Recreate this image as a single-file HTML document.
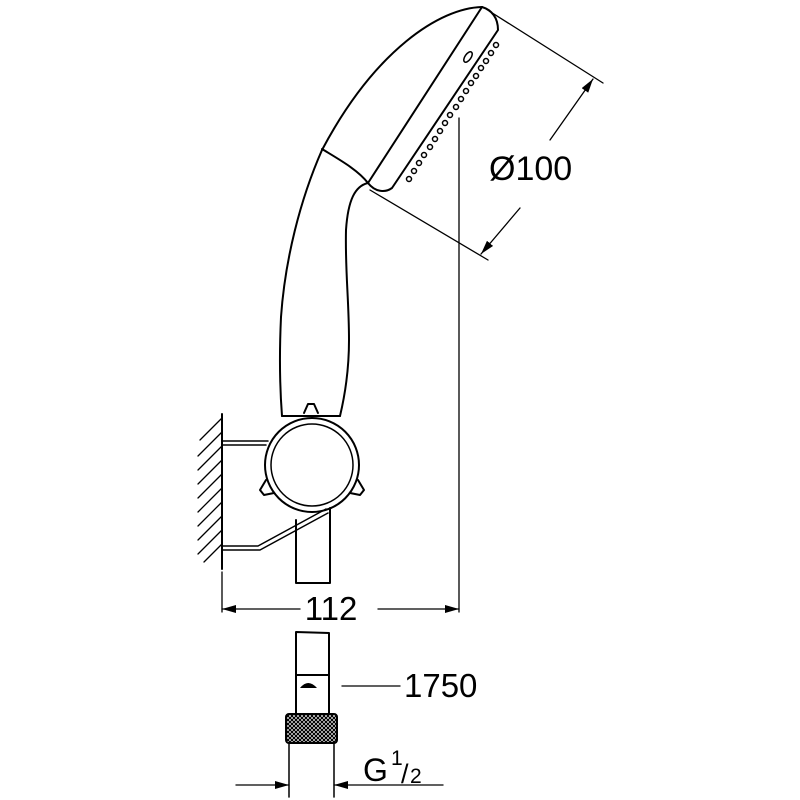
<!DOCTYPE html>
<html><head><style>html,body{margin:0;padding:0;background:#fff}svg{display:block}</style></head><body>
<svg width="800" height="800" viewBox="0 0 800 800" xmlns="http://www.w3.org/2000/svg">
<defs>
<marker id="ar" markerWidth="14" markerHeight="8" refX="14" refY="4" orient="auto" markerUnits="userSpaceOnUse"><path d="M0,0 L14,4 L0,8 z" fill="#000"/></marker>
<pattern id="kn" width="4" height="4" patternUnits="userSpaceOnUse"><rect width="4" height="4" fill="#fff"/><path d="M0,0 L4,4 M4,0 L0,4" stroke="#000" stroke-width="1.2"/></pattern>
</defs>
<g fill="none" stroke="#000" stroke-width="2" stroke-linejoin="round" stroke-linecap="round">
<path d="M482,7 C440,8 375,50 322,150 C300,200 285,260 281,317 C279,360 280,390 282,416"/>
<path d="M322,149 C340,160 358,170 368,183"/>
<path d="M368,183 C355,186 348,200 346,230 C345,270 349,300 349,340 C349,370 345,395 340,416"/>
<path d="M482,7 L368,183"/>
<path d="M482,7 C492,10 498,18 498,30 L392,188 C385,193 375,192 368,183"/>
<g stroke-width="1.5">
<circle cx="496" cy="45" r="2.5"/><circle cx="491" cy="53" r="2.5"/><circle cx="486" cy="61" r="2.5"/><circle cx="481" cy="68" r="2.5"/><circle cx="476" cy="76" r="2.5"/><circle cx="471" cy="83" r="2.5"/><circle cx="466" cy="91" r="2.5"/><circle cx="461" cy="99" r="2.5"/><circle cx="456" cy="107" r="2.5"/><circle cx="450" cy="115" r="2.5"/><circle cx="445" cy="123" r="2.5"/><circle cx="440" cy="131" r="2.5"/><circle cx="435" cy="139" r="2.5"/><circle cx="430" cy="147" r="2.5"/><circle cx="424" cy="155" r="2.5"/><circle cx="419" cy="163" r="2.5"/><circle cx="414" cy="171" r="2.5"/><circle cx="409" cy="179" r="2.5"/>
</g>
<ellipse cx="468" cy="57" rx="3" ry="6" transform="rotate(35 468 57)" stroke-width="1.5"/>
<path d="M282,416 L340,416"/>
<path d="M304,413 L308,404 L314,404 L318,413"/>
<path d="M266,480 L260,490 L264,495 L274,493"/>
<path d="M358,480 L364,490 L360,495 L350,493"/>
<circle cx="312" cy="465" r="47" fill="#fff"/>
<circle cx="312" cy="465" r="41" stroke-width="1.5"/>
<path d="M222,414 L222,569"/>
<g stroke-width="1.3"><path d="M222,418 L200,440 M222,432 L198,456 M222,446 L198,470 M222,460 L198,484 M222,474 L198,498 M222,488 L198,512 M222,502 L198,526 M222,516 L198,540 M222,530 L198,554 M222,544 L204,562"/></g>
<path d="M222,441 L268,441 M222,445 L266,445" stroke-width="1.5"/>
<path d="M222,546 L258,546 L326,509 M222,550 L260,550 L328,513" stroke-width="1.5"/>
<path d="M296,520 L296,583 L330,583 L330,508"/>
<path d="M459,118 L459,612" stroke-width="1.3"/>
<path d="M222,572 L222,612" stroke-width="1.3"/>
<path d="M300,609 L222,609" stroke-width="1.3" marker-end="url(#ar)"/>
<path d="M378,609 L459,609" stroke-width="1.3" marker-end="url(#ar)"/>
<path d="M486,9 L603,83 M370,190 L488,260" stroke-width="1.3"/>
<path d="M550,140 L593,79" stroke-width="1.3" marker-end="url(#ar)"/>
<path d="M520,208 L481,254" stroke-width="1.3" marker-end="url(#ar)"/>
<path d="M296,675 L296,632 L329,633 L329,675"/>
<rect x="296" y="675" width="33" height="39"/>
<rect x="286" y="714" width="51" height="29" rx="3" fill="url(#kn)"/>
<path d="M289,743 L289,797 M334,743 L334,797" stroke-width="1.5"/>
<path d="M236,785 L289,785" stroke-width="1.3" marker-end="url(#ar)"/>
<path d="M443,785 L334,785" stroke-width="1.3" marker-end="url(#ar)"/>
<path d="M342,686 L400,686" stroke-width="1.3"/>
</g>
<path d="M300,688 Q308,678 317,688 z" fill="#000"/>
<g font-family="Liberation Sans, sans-serif" fill="#000">
<text x="331" y="620" font-size="33" text-anchor="middle">112</text>
<text x="489" y="180" font-size="34">Ø100</text>
<text x="404" y="697" font-size="33">1750</text>
<text x="363" y="781" font-size="32">G</text>
<text x="391" y="765" font-size="21">1</text>
<text x="401" y="783" font-size="27">/</text>
<text x="410" y="783" font-size="21">2</text>
</g>
</svg>
</body></html>
